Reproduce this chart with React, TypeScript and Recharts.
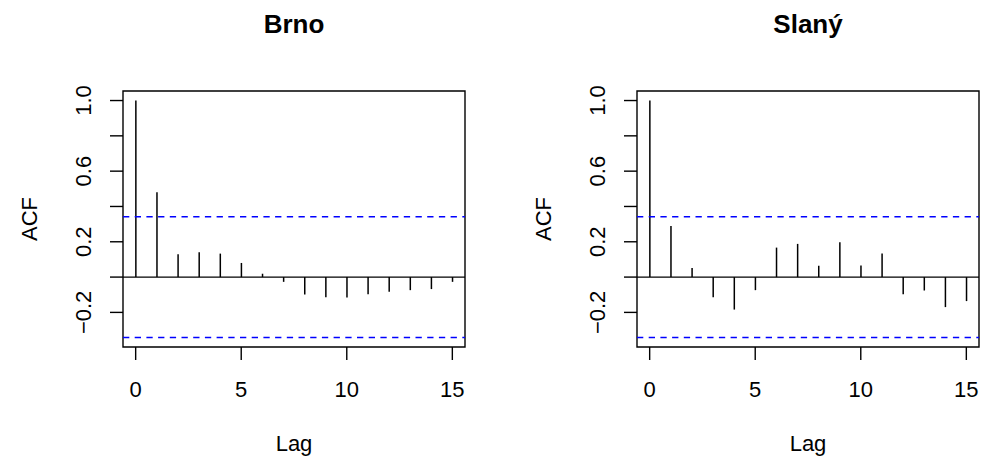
import React from 'react';
import { ComposedChart, Bar, XAxis, YAxis, ReferenceLine, ReferenceArea } from 'recharts';

const lags = [0, 1, 2, 3, 4, 5, 6, 7, 8, 9, 10, 11, 12, 13, 14, 15];
const brnoAcf = [1.0, 0.481, 0.129, 0.14, 0.133, 0.08, 0.019, -0.027, -0.098, -0.114, -0.116, -0.097, -0.083, -0.074, -0.068, -0.027];
const slanyAcf = [1.0, 0.29, 0.051, -0.114, -0.184, -0.074, 0.167, 0.188, 0.064, 0.197, 0.066, 0.134, -0.097, -0.076, -0.17, -0.136];
const ciBound = 0.342;

const xTicks = [0, 5, 10, 15];
const yTicks = [-0.2, 0, 0.2, 0.4, 0.6, 0.8, 1.0];
// R drops the labels that would overlap, so only every other one is shown
const yTickLabels = ['\u22120.2', '', '0.2', '', '0.6', '', '1.0'];

const xDomain = [-0.6, 15.6];
const yDomain = [-0.396, 1.054];

const FONT = '"Liberation Sans", Arial, Helvetica, sans-serif';
const TICK_SIZE = 13;

const XTick = (props: any) => {
  const { x, y, payload } = props;
  return (
    <text x={x} y={y + 36.7} textAnchor="middle" fontSize={22} fontFamily={FONT} fill="#000">
      {payload.value}
    </text>
  );
};

const YTick = (props: any) => {
  const { x, y, payload } = props;
  const i = yTicks.findIndex((t) => Math.abs(t - payload.value) < 1e-6);
  const label = i >= 0 ? yTickLabels[i] : '';
  if (!label) return <g />;
  const bx = x - 19;
  return (
    <text x={bx} y={y} transform={`rotate(-90, ${bx}, ${y})`} textAnchor="middle" fontSize={22} fontFamily={FONT} fill="#000">
      {label}
    </text>
  );
};

const AcfPanel = ({ values, width, right }: { values: number[]; width: number; right: number }) => {
  const data = lags.map((lag, i) => ({ lag, acf: values[i] }));
  return (
    <ComposedChart width={width} height={457} data={data} margin={{ top: 91, right, bottom: 0, left: 0 }}>
      <XAxis
        type="number"
        dataKey="lag"
        domain={xDomain}
        allowDataOverflow
        ticks={xTicks}
        interval={0}
        height={110}
        axisLine={false}
        tickSize={TICK_SIZE}
        tickMargin={0}
        tickLine={{ stroke: '#000', strokeWidth: 1.4 }}
        tick={<XTick />}
      />
      <YAxis
        type="number"
        domain={yDomain}
        allowDataOverflow
        ticks={yTicks}
        interval={0}
        width={123}
        axisLine={false}
        tickSize={TICK_SIZE}
        tickMargin={0}
        tickLine={{ stroke: '#000', strokeWidth: 1.4 }}
        tick={<YTick />}
      />
      <ReferenceArea x1={xDomain[0]} x2={xDomain[1]} y1={yDomain[0]} y2={yDomain[1]} fill="none" fillOpacity={0} stroke="#000" strokeWidth={1.4} />
      <ReferenceLine y={ciBound} stroke="#0000FF" strokeWidth={1.5} strokeDasharray="6.3 5.4" />
      <ReferenceLine y={-ciBound} stroke="#0000FF" strokeWidth={1.5} strokeDasharray="6.3 5.4" />
      <Bar dataKey="acf" fill="#000" barSize={1.5} isAnimationActive={false} />
      <ReferenceLine y={0} stroke="#000" strokeWidth={1.4} />
    </ComposedChart>
  );
};

const textStyle = { fontFamily: FONT, fill: '#000' };

export default function App() {
  return (
    <div style={{ position: 'absolute', left: 0, top: 0, width: 985, height: 457, background: '#fff', overflow: 'hidden' }}>
      <div style={{ position: 'absolute', left: 0, top: 0 }}>
        <AcfPanel values={brnoAcf} width={492} right={27} />
      </div>
      <div style={{ position: 'absolute', left: 514, top: 0 }}>
        <AcfPanel values={slanyAcf} width={471} right={6} />
      </div>
      <svg width={985} height={457} style={{ position: 'absolute', left: 0, top: 0, pointerEvents: 'none' }}>
        <text x={294} y={33} textAnchor="middle" fontSize={26} fontWeight="bold" {...textStyle}>Brno</text>
        <text x={808} y={33} textAnchor="middle" fontSize={26} fontWeight="bold" {...textStyle}>Slaný</text>
        <text x={294} y={451} textAnchor="middle" fontSize={22} {...textStyle}>Lag</text>
        <text x={808} y={451} textAnchor="middle" fontSize={22} {...textStyle}>Lag</text>
        <text x={36.7} y={219} transform="rotate(-90, 36.7, 219)" textAnchor="middle" fontSize={22} {...textStyle}>ACF</text>
        <text x={550.7} y={219} transform="rotate(-90, 550.7, 219)" textAnchor="middle" fontSize={22} {...textStyle}>ACF</text>
      </svg>
    </div>
  );
}
